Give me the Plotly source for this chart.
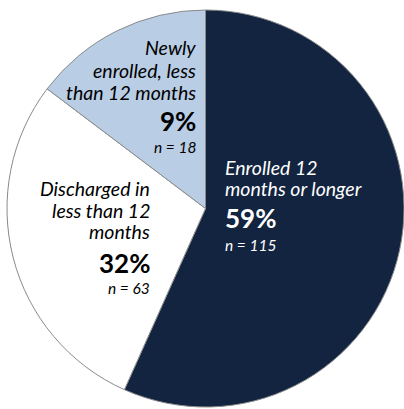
import plotly.graph_objects as go

# Data
categories = ["Enrolled 12 months or longer", "Discharged in less than 12 months", "Newly enrolled, less than 12 months"]
pct_labels = ["59%", "32%", "9%"]
n_values = [115, 63, 18]
# slice sizes as drawn in the picture (degrees of arc measured)
slice_values = [56.7, 28.6, 14.7]
colors = ["#12243f", "#ffffff", "#b9cde5"]
label_lines = [["Enrolled 12", "months or longer"],
               ["Discharged in", "less than 12", "months"],
               ["Newly", "enrolled, less", "than 12 months"]]

W, H = 404, 409
FONT = "Lato"

fig = go.Figure(go.Pie(
    values=slice_values,
    labels=categories,
    sort=False,
    direction="clockwise",
    rotation=0,
    marker=dict(colors=colors, line=dict(color="#8a8a8a", width=1)),
    textinfo="none",
    hoverinfo="label+percent",
    showlegend=False,
    domain=dict(x=[7 / W, 1], y=[0, 1 - 8 / H]),
))

def px(x, y):
    return x / W, 1 - y / H

# layout of text blocks: (x anchor px, anchor side, y for lines, y pct, y n, text colour)
blocks = [
    (223, "left", [167, 188], 218, 245, "white"),
    (152, "right", [188, 210, 231], 263, 288, "black"),
    (198, "right", [48, 70, 92], 121, 147, "black"),
]

annotations = []
for i, (ax, side, ys, ypct, yn, col) in enumerate(blocks):
    for line, yy in zip(label_lines[i], ys):
        x, y = px(ax, yy)
        annotations.append(dict(x=x, y=y, xref="paper", yref="paper", text="<i>" + line + "</i>",
                                showarrow=False, xanchor=side, yanchor="middle",
                                font=dict(family=FONT, size=19.5, color=col)))
    x, y = px(ax, ypct)
    annotations.append(dict(x=x, y=y, xref="paper", yref="paper", text="<b>" + pct_labels[i] + "</b>",
                            showarrow=False, xanchor=side, yanchor="middle",
                            font=dict(family=FONT, size=26, color=col)))
    x, y = px(ax, yn)
    annotations.append(dict(x=x, y=y, xref="paper", yref="paper", text="<i>n = " + str(n_values[i]) + "</i>",
                            showarrow=False, xanchor=side, yanchor="middle",
                            font=dict(family=FONT, size=15.5, color=col)))

fig.update_layout(
    width=W, height=H,
    margin=dict(l=0, r=0, t=0, b=0),
    paper_bgcolor="white",
    plot_bgcolor="white",
    annotations=annotations,
)

fig.write_html("out.html")
